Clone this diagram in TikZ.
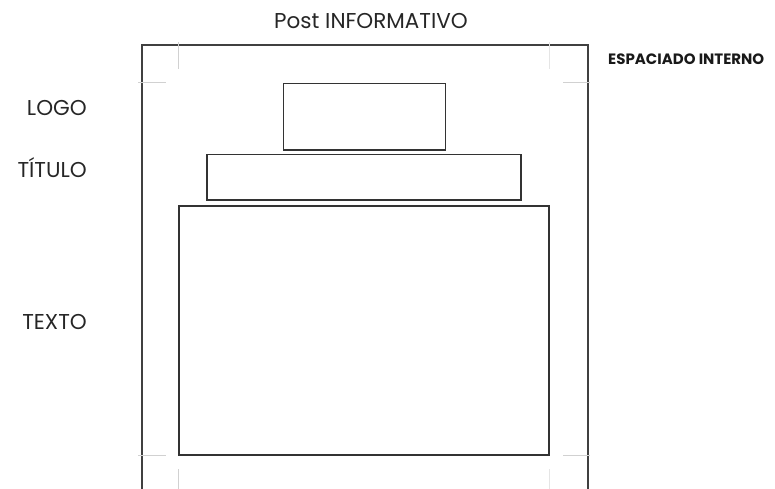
\documentclass[tikz,border=0pt]{standalone}
\usepackage{fontspec}
\setmainfont{Poppins}
\begin{document}
\begin{tikzpicture}[x=1pt,y=-1pt,
  box/.style={draw=black!80,line width=1.5pt,inner sep=0pt,outer sep=0pt},
  guide/.style={draw=black!18,line width=1pt},
  lbl/.style={font=\fontsize{21.5}{21.5}\selectfont,text=black!85,anchor=base east,inner sep=0pt},
  ]
\clip (0,0) rectangle (775,489);
\useasboundingbox (0,0) rectangle (775,489);
% outer frame
\coordinate (bl) at (141.7,495);
\coordinate (tl) at (141.7,45);
\coordinate (tr) at (587.7,45);
\coordinate (br) at (587.7,495);
\draw[draw=black!75,line width=1.8pt] (bl) -- (tl) -- (tr) -- (br);
% guides
\draw[guide] (178.5,42) -- (178.5,69);
\draw[guide] (138,82.5) -- (166,82.5);
\draw[guide,draw=black!10] (549.5,42) -- (549.5,69);
\draw[guide] (563,82.5) -- (590,82.5);
\draw[guide] (138,455.7) -- (166,455.7);
\draw[guide] (178.5,469) -- (178.5,495);
\draw[guide] (563,455.7) -- (590,455.7);
\draw[guide,draw=black!10] (549.5,469) -- (549.5,495);
% boxes
\node[box,minimum width=162pt,minimum height=66.7pt] (logo) at (364.3,116.7) {};
\node[box,minimum width=314pt,minimum height=45.3pt] (titulo) at (364,177.3) {};
\node[box,minimum width=370pt,minimum height=249pt] (texto) at (364,330.5) {};
% labels
\node[lbl] (llogo) at (87,116) {LOGO};
\node[lbl] (ltitulo) at (87,177) {TÍTULO};
\node[lbl] (ltexto) at (87,329) {TEXTO};
\node[font=\fontsize{21.5}{21.5}\selectfont,text=black!85,anchor=base,inner sep=0pt] (title) at (371,29) {Post INFORMATIVO};
\node[font=\fontsize{15}{15}\selectfont\bfseries,text=black!90,anchor=base west,inner sep=0pt] (esp) at (608,65) {ESPACIADO INTERNO};
\end{tikzpicture}
\end{document}
